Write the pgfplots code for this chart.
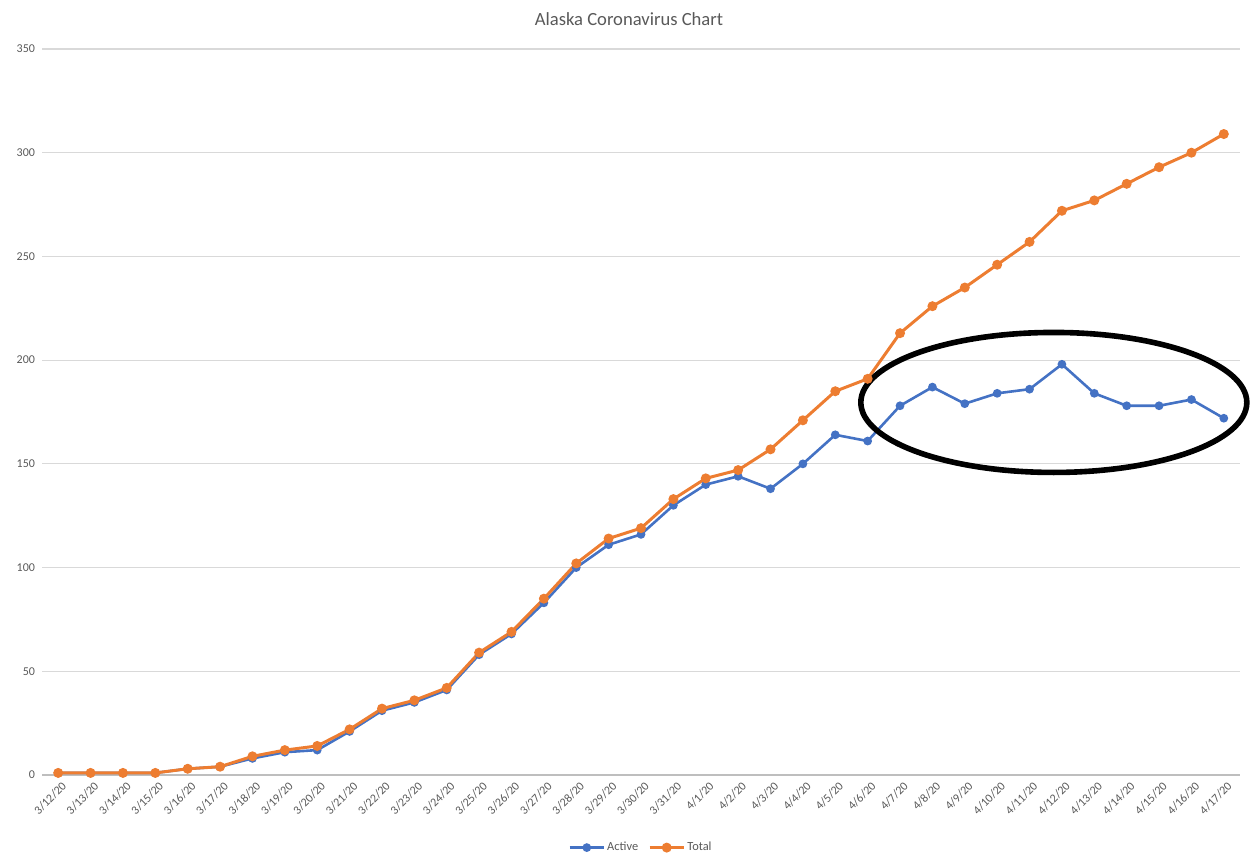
\documentclass[border=0pt]{standalone}
\usepackage{fontspec}
\setmainfont{Carlito}
\usepackage{pgfplots}
\usepackage{pgfplotstable}
\pgfplotsset{compat=1.18}

\definecolor{xlblue}{HTML}{4472C4}
\definecolor{xlorange}{HTML}{ED7D31}
\definecolor{xlgrid}{HTML}{D9D9D9}
\definecolor{xltext}{HTML}{595959}

% day index, active cases, total cases (3/12/20 ... 4/17/20)
\pgfplotstableread{
day active total
0   1   1
1   1   1
2   1   1
3   1   1
4   3   3
5   4   4
6   8   9
7   11  12
8   12  14
9   21  22
10  31  32
11  35  36
12  41  42
13  58  59
14  68  69
15  83  85
16  100 102
17  111 114
18  116 119
19  130 133
20  140 143
21  144 147
22  138 157
23  150 171
24  164 185
25  161 191
26  178 213
27  187 226
28  179 235
29  184 246
30  186 257
31  198 272
32  184 277
33  178 285
34  178 293
35  181 300
36  172 309
}\alaska

\begin{document}
\begin{tikzpicture}
\begin{axis}[
    scale only axis,
    width=599pt, height=363pt,
    xmin=-0.5, xmax=36.5,
    ymin=0, ymax=350,
    ytick={0,50,...,350},
    xtick={0,...,36},
    xticklabels={3/12/20,3/13/20,3/14/20,3/15/20,3/16/20,3/17/20,3/18/20,3/19/20,3/20/20,3/21/20,3/22/20,3/23/20,3/24/20,3/25/20,3/26/20,3/27/20,3/28/20,3/29/20,3/30/20,3/31/20,4/1/20,4/2/20,4/3/20,4/4/20,4/5/20,4/6/20,4/7/20,4/8/20,4/9/20,4/10/20,4/11/20,4/12/20,4/13/20,4/14/20,4/15/20,4/16/20,4/17/20},
    xticklabel style={rotate=45, anchor=north east, font=\fontsize{6}{7}\selectfont, text=xltext, yshift=-2pt, inner sep=1pt},
    yticklabel style={font=\fontsize{6}{7}\selectfont, text=xltext},
    /pgf/number format/assume math mode=true,
    major tick length=0pt,
    axis x line*=bottom,
    axis y line*=left,
    x axis line style={draw=xlgrid!70!gray, line width=0.6pt},
    y axis line style={draw=none},
    ymajorgrids=true,
    grid style={xlgrid, line width=0.6pt},
    title={Alaska Coronavirus Chart},
    title style={at={(0.5,1)}, anchor=base, yshift=5.5pt, xshift=-6pt,
                 font=\fontsize{9.3}{11}\selectfont, text=xltext},
    legend style={at={(0.5,-0.1)}, anchor=center, draw=none, fill=none,
                  legend columns=2, font=\fontsize{6.2}{7}\selectfont, text=xltext,
                  inner sep=0pt, nodes={inner sep=1pt},
                  /tikz/every even column/.append style={column sep=4pt}},
    legend cell align=left,
    clip=false,
]
\addplot[xlblue, line width=1.3pt, mark=*, mark size=1.5pt, mark options={fill=xlblue, draw=xlblue}]
    table[x=day, y=active]{\alaska};
\addlegendentry{Active}
\addplot[xlorange, line width=1.5pt, mark=*, mark size=1.7pt, mark options={fill=xlorange, draw=xlorange}]
    table[x=day, y=total]{\alaska};
\addlegendentry{Total}

\draw[black, line width=2.8pt] (axis cs:30.75,179.6) ellipse [x radius=96.5pt, y radius=35pt];
\end{axis}
\pgfresetboundingbox
\path[use as bounding box] (-21pt,-40pt) rectangle (605pt,387.5pt);
\end{tikzpicture}
\end{document}
